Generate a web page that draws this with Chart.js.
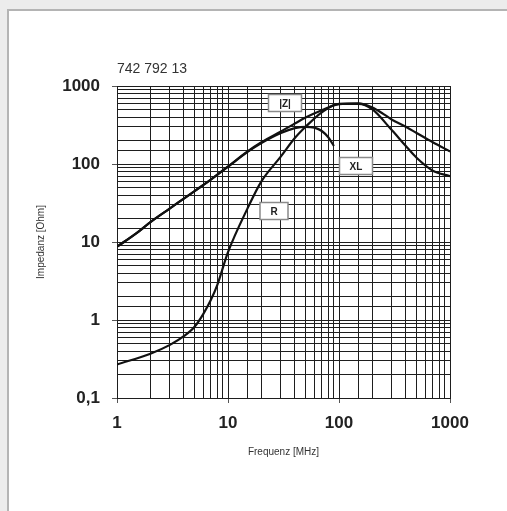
<!DOCTYPE html>
<html lang="de">
<head>
<meta charset="UTF-8">
<title>742 792 13</title>
<style>
  html, body { margin: 0; padding: 0; }
  body { width: 507px; height: 511px; background: #ececec; overflow: hidden; position: relative; }
  .panel { position: absolute; left: 7px; top: 9px; width: 520px; height: 520px; background: #fff;
           border-left: 2px solid #b4b4b4; border-top: 2px solid #b4b4b4; box-sizing: border-box; }
  #wrap { position: absolute; left: 0; top: 0; width: 507px; height: 511px; }
</style>
</head>
<body>
<div class="panel"></div>
<div id="wrap"><canvas id="grafico"></canvas></div>

<script src="https://cdn.jsdelivr.net/npm/chart.js"></script>
<script>
  // frequenz in MHz
  const freqZ  = [1, 1.5, 2, 3, 4, 5, 7, 10, 15, 20, 30, 40, 50, 70, 100, 150, 200, 250, 300, 400, 500, 700, 1000];
  const impZ   = [8.7, 13, 18, 27, 36, 45, 63, 93, 145, 190, 262, 330, 395, 490, 585, 600, 530, 440, 370, 300, 250, 190, 145];

  const freqR  = [1, 2, 3, 4, 5, 6, 7, 8, 10, 15, 20, 30, 40, 50, 70, 100, 150, 200, 300, 400, 500, 700, 1000];
  const impR   = [0.27, 0.37, 0.48, 0.62, 0.82, 1.2, 1.8, 2.8, 7.4, 27, 60, 125, 215, 300, 460, 590, 590, 500, 270, 170, 120, 82, 70];

  const freqXL = [1, 1.5, 2, 3, 4, 5, 7, 10, 15, 20, 30, 40, 50, 60, 70, 80, 90];
  const impXL  = [8.7, 13, 18, 27, 36, 45, 63, 92, 143, 186, 250, 288, 300, 293, 265, 220, 170];

  const xTicks = [1, 10, 100, 1000];
  const yTicks = [0.1, 1, 10, 100, 1000];

  // beschriftungen der kurven (frequenz, impedanz)
  const kurvenText = ['|Z|', 'XL', 'R'];
  const kurvenFreq = [32.6, 142, 26];
  const kurvenImp  = [603, 94, 25];

  function paare(fs, vs) {
    return fs.map((f, i) => ({ x: f, y: vs[i] }));
  }

  function istDekade(v) {
    const l = Math.log10(v);
    return Math.abs(l - Math.round(l)) < 1e-9;
  }

  const kurvenLabels = {
    id: 'kurvenLabels',
    afterDatasetsDraw(chart) {
      const ctx = chart.ctx;
      const sx = chart.scales.x, sy = chart.scales.y;
      ctx.save();
      ctx.font = 'bold 10px "Liberation Sans", Arial, sans-serif';
      ctx.textAlign = 'center';
      ctx.textBaseline = 'middle';
      for (let i = 0; i < kurvenText.length; i++) {
        const cx = Math.round(sx.getPixelForValue(kurvenFreq[i]));
        const cy = Math.round(sy.getPixelForValue(kurvenImp[i]));
        const w = kurvenText[i] === 'R' ? 28 : 33;
        const h = 17;
        ctx.fillStyle = '#fff';
        ctx.fillRect(cx - w / 2, cy - h / 2, w, h);
        ctx.strokeStyle = '#8a8a8a';
        ctx.lineWidth = 1.5;
        ctx.strokeRect(cx - w / 2, cy - h / 2, w, h);
        ctx.fillStyle = '#222';
        ctx.fillText(kurvenText[i], cx, cy + 1);
      }
      ctx.restore();
    }
  };

  const linie = { borderColor: '#111', borderWidth: 2.2, pointRadius: 0, fill: false, cubicInterpolationMode: 'monotone' };

  const config = {
    type: 'line',
    data: {
      datasets: [
        Object.assign({ label: '|Z|', data: paare(freqZ, impZ) }, linie),
        Object.assign({ label: 'R',   data: paare(freqR, impR) }, linie),
        Object.assign({ label: 'XL',  data: paare(freqXL, impXL) }, linie)
      ]
    },
    options: {
      responsive: false,
      animation: false,
      devicePixelRatio: 1,
      layout: { padding: { left: 0, right: 57, top: 59.2, bottom: 0 } },
      plugins: {
        legend: { display: false },
        tooltip: { enabled: false },
        title: {
          display: true,
          text: '742 792 13',
          align: 'start',
          fullSize: false,
          color: '#333',
          font: { family: '"Liberation Sans", Arial, sans-serif', size: 14, weight: 'normal', lineHeight: 1.2 },
          padding: { top: 1.4, bottom: 8.6 }
        }
      },
      scales: {
        x: {
          type: 'logarithmic',
          min: 1,
          max: 1000,
          afterFit: s => { s.height = 113; },
          grid: {
            color: '#1e1e1e',
            lineWidth: 1,
            tickLength: 5,
            tickColor: c => (c.tick && istDekade(c.tick.value)) ? '#555' : 'rgba(0,0,0,0)'
          },
          border: { color: '#1e1e1e', width: 1 },
          ticks: {
            autoSkip: false,
            maxRotation: 0,
            padding: 10,
            color: '#222',
            font: { family: '"Liberation Sans", Arial, sans-serif', size: 17, weight: 'bold' },
            callback: v => xTicks.includes(v) ? String(v) : ''
          },
          title: {
            display: true,
            text: 'Frequenz [MHz]',
            color: '#333',
            font: { family: '"Liberation Sans", Arial, sans-serif', size: 10, lineHeight: 1.2 },
            padding: { top: 0, bottom: 53 }
          }
        },
        y: {
          type: 'logarithmic',
          min: 0.1,
          max: 1000,
          afterFit: s => { s.width = 117; },
          grid: {
            color: '#1e1e1e',
            lineWidth: 1,
            tickLength: 5,
            tickColor: c => (c.tick && istDekade(c.tick.value)) ? '#555' : 'rgba(0,0,0,0)'
          },
          border: { color: '#1e1e1e', width: 1 },
          ticks: {
            autoSkip: false,
            padding: 12,
            color: '#222',
            font: { family: '"Liberation Sans", Arial, sans-serif', size: 17, weight: 'bold' },
            callback: v => {
              const t = yTicks.find(y => Math.abs(y - v) < 1e-9);
              return t === undefined ? '' : String(t).replace('.', ',');
            }
          },
          title: {
            display: true,
            text: 'Impedanz [Ohm]',
            color: '#333',
            font: { family: '"Liberation Sans", Arial, sans-serif', size: 10, lineHeight: 1.2 },
            padding: { top: 35, bottom: 0 }
          }
        }
      }
    },
    plugins: [kurvenLabels]
  };

  const cv = document.getElementById('grafico');
  cv.width = 507;
  cv.height = 511;
  new Chart(cv, config);
</script>
</body>
</html>
